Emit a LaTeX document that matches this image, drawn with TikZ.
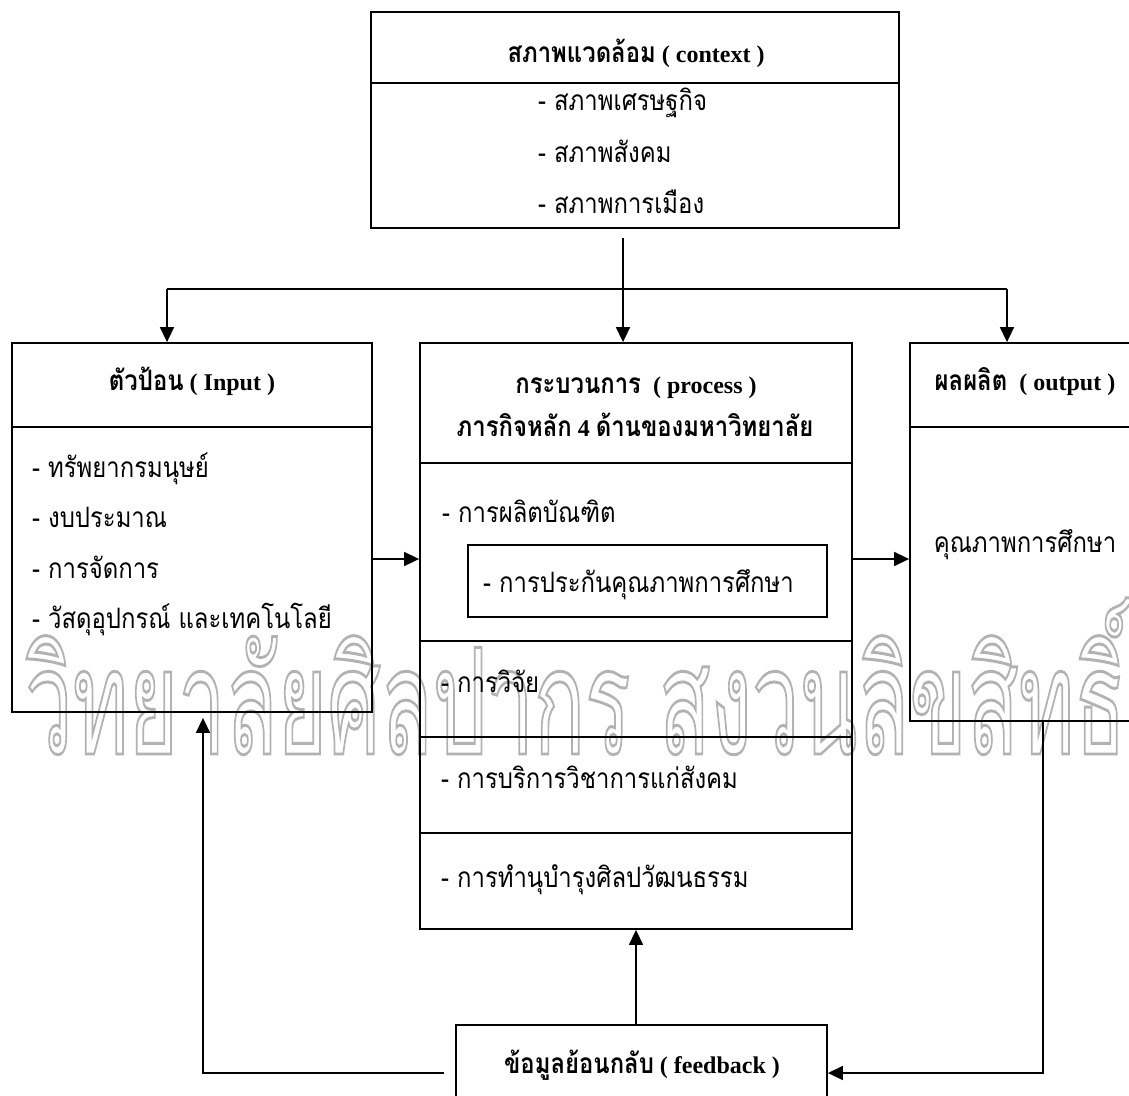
\documentclass[tikz,border=0pt]{standalone}
\usepackage{fontspec}
\setmainfont{Liberation Serif}
\newfontfamily\tf[Script=Thai,Scale=1.17,FakeStretch=0.85]{Loma}
\newfontfamily\wmf[Script=Thai]{Loma}
\usetikzlibrary{arrows.meta}
\begin{document}
\begin{tikzpicture}[x=1pt,y=-1pt,
  box/.style={draw, line width=1.8pt, inner sep=0pt, fill=none},
  div/.style={line width=1.8pt},
  con/.style={line width=1.6pt},
  arr/.style={line width=1.6pt, -{Triangle[length=15pt,width=14pt]}},
  ttl/.style={anchor=base, inner sep=0pt, font=\fontsize{24}{28}\selectfont},
  itm/.style={anchor=base west, inner sep=0pt, font=\fontsize{24}{28}\selectfont\tf},
  wm/.style={anchor=base west, inner sep=0pt, text=black!30}
]
\useasboundingbox (0,0) rectangle (1129,1095);
\begin{scope}
\clip (0,0) rectangle (1129,1095);
% watermark
\node[wm] (wmark) at (25,754) {\special{pdf:literal 1 Tr 0.2 w}\resizebox{1100pt}{156pt}{\wmf วิทยาลัยศิลปากร สงวนลิขสิทธิ์}\special{pdf:literal 0 Tr}};

% boxes
\node[box, minimum width=528pt, minimum height=216pt] (ctx) at (635,120) {};
\node[box, minimum width=360pt, minimum height=369pt] (inp) at (192,527.5) {};
\node[box, minimum width=432pt, minimum height=586pt] (proc) at (636,636) {};
\node[box, minimum width=230pt, minimum height=378pt] (out) at (1025,532) {};
\node[box, minimum width=359pt, minimum height=72pt] (inner) at (647.5,581) {};
\node[box, minimum width=371pt, minimum height=85pt] (fb) at (641.5,1067.5) {};

% dividers
\draw[div] (ctx.west |- 0,83) -- (ctx.east |- 0,83);
\draw[div] (inp.west |- 0,427) -- (inp.east |- 0,427);
\draw[div] (out.west |- 0,427) -- (out.east |- 0,427);
\foreach \yy in {463,641,737,833} \draw[div] (proc.west |- 0,\yy) -- (proc.east |- 0,\yy);

% texts
\node[ttl] (tctx) at (636,62) {{\tf\bfseries สภาพแวดล้อม} \textbf{( context )}};
\node[itm] (c1) at (538,110) {- สภาพเศรษฐกิจ};
\node[itm] (c2) at (538,162) {- สภาพสังคม};
\node[itm] (c3) at (538,213) {- สภาพการเมือง};

\node[ttl] (tinp) at (192,390) {{\tf\bfseries ตัวป้อน} \textbf{( Input )}};
\node[itm] (i1) at (32,477) {- ทรัพยากรมนุษย์};
\node[itm] (i2) at (32,527) {- งบประมาณ};
\node[itm] (i3) at (32,578) {- การจัดการ};
\node[itm] (i4) at (32,628) {- วัสดุอุปกรณ์ และเทคโนโลยี};

\node[ttl] (tproc1) at (636,393) {{\tf\bfseries กระบวนการ}\ \ \textbf{( process )}};
\node[ttl] (tproc2) at (635,436) {{\tf\bfseries ภารกิจหลัก} \textbf{4} {\tf\bfseries ด้านของมหาวิทยาลัย}};
\node[itm] (p1) at (442,522) {- การผลิตบัณฑิต};
\node[itm] (p1a) at (483,592) {- การประกันคุณภาพการศึกษา};
\node[itm] (p2) at (441,692) {- การวิจัย};
\node[itm] (p3) at (441,788) {- การบริการวิชาการแก่สังคม};
\node[itm] (p4) at (441,887) {- การทำนุบำรุงศิลปวัฒนธรรม};

\node[ttl] (tout) at (1025,390) {{\tf\bfseries ผลผลิต}\ \ \textbf{( output )}};
\node[ttl, font=\fontsize{24}{28}\selectfont\tf] (o1) at (1025,552) {คุณภาพการศึกษา};

\node[ttl] (tfb) at (642,1073) {{\tf\bfseries ข้อมูลย้อนกลับ} \textbf{( feedback )}};

% connectors
\coordinate (j) at (623,289);
\coordinate (jl) at (167,289);
\coordinate (jr) at (1007,289);
\draw[con] ([yshift=-9pt]ctx.south -| j) -- (j);
\draw[con] (jl) -- (jr);
\draw[arr] (j) -- (j |- proc.north);
\draw[arr] (jl) -- (jl |- inp.north);
\draw[arr] (jr) -- (jr |- out.north);

\coordinate (my) at (0,559);
\draw[arr] (inp.east |- my) -- (proc.west |- my);
\draw[arr] (proc.east |- my) -- (out.west |- my);

\coordinate (fx) at (636,0);
\draw[arr] (fx |- fb.north) -- (fx |- proc.south);

\coordinate (fl) at (444,1073);
\coordinate (lx) at (203,0);
\draw[arr, shorten >=5pt] (fl) -| (lx |- inp.south);

\coordinate (rx) at (1043,0);
\draw[arr] (rx |- out.south) |- (fb.east |- fl);
\end{scope}
\end{tikzpicture}
\end{document}
